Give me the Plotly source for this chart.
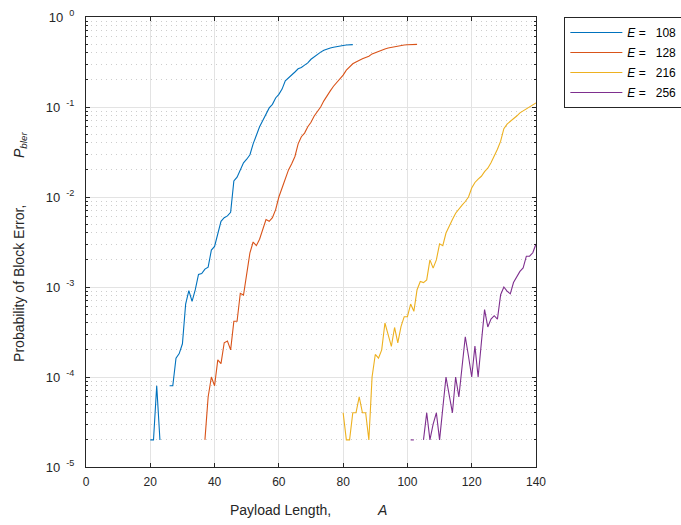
import plotly.graph_objects as go

# ---------------- data ----------------
x_e108 = list(range(20, 84))
p_e108 = [2e-5, 2e-5, 8e-5, 2e-5, None, None, 8e-5, 8e-5, 1.62e-4, 1.82e-4,
          2.34e-4, 6.46e-4, 9.12e-4, 6.92e-4, 9.33e-4, 1.38e-3, 1.41e-3, 1.58e-3, 1.66e-3, 2.57e-3,
          2.82e-3, 3.98e-3, 5.37e-3, 5.89e-3, 6.17e-3, 6.76e-3, 1.51e-2, 1.66e-2, 2.04e-2, 2.40e-2,
          2.63e-2, 2.95e-2, 3.89e-2, 4.90e-2, 6.03e-2, 7.08e-2, 8.51e-2, 9.77e-2, 0.107, 0.126,
          0.138, 0.158, 0.195, 0.209, 0.229, 0.245, 0.266, 0.275, 0.292, 0.309,
          0.339, 0.363, 0.389, 0.407, 0.427, 0.442, 0.452, 0.461, 0.470, 0.478,
          0.483, 0.488, 0.491, 0.493]

x_e128 = list(range(37, 104))
p_e128 = [2e-5, 6.0e-5, 1.0e-4, 8.0e-5, 1.55e-4, 1.41e-4, 2.40e-4, 2.51e-4, 2.0e-4,
          4.17e-4, 4.17e-4, 8.51e-4, 8.13e-4, 1.41e-3, 2.40e-3, 3.16e-3, 2.88e-3, 3.39e-3, 4.37e-3,
          5.62e-3, 5.37e-3, 5.89e-3, 7.24e-3, 1.0e-2, 1.26e-2, 1.58e-2, 2.0e-2, 2.34e-2, 2.82e-2,
          3.89e-2, 4.68e-2, 5.13e-2, 6.03e-2, 6.76e-2, 7.94e-2, 8.91e-2, 0.100, 0.117, 0.135,
          0.151, 0.170, 0.186, 0.209, 0.226, 0.257, 0.282, 0.302, 0.316, 0.331,
          0.343, 0.355, 0.367, 0.389, 0.403, 0.417, 0.432, 0.442, 0.452, 0.460,
          0.468, 0.476, 0.482, 0.488, 0.492, 0.494, 0.495, 0.497]

x_e216 = list(range(80, 141))
p_e216 = [4e-5, 2e-5, 2e-5, 4e-5, 4e-5, 6e-5, 4e-5, 4e-5, 2e-5, 1.0e-4,
          1.78e-4, 1.62e-4, 2.0e-4, 3.98e-4, 2.95e-4, 2.19e-4, 3.55e-4, 2.40e-4, 3.63e-4, 4.68e-4,
          4.68e-4, 6.46e-4, 5.37e-4, 9.33e-4, 1.15e-3, 1.12e-3, 1.20e-3, 2.0e-3, 1.62e-3, 2.0e-3,
          3.02e-3, 2.88e-3, 3.98e-3, 4.79e-3, 5.62e-3, 6.61e-3, 7.41e-3, 8.13e-3, 8.91e-3, 1.0e-2,
          1.26e-2, 1.45e-2, 1.58e-2, 1.70e-2, 1.91e-2, 2.09e-2, 2.40e-2, 2.82e-2, 3.39e-2, 4.17e-2,
          5.75e-2, 6.46e-2, 6.92e-2, 7.24e-2, 7.94e-2, 8.61e-2, 9.02e-2, 9.55e-2, 0.100, 0.106,
          0.111]

x_e256 = list(range(101, 141))
p_e256 = [2e-5, 2e-5, None, None, 2e-5, 4e-5, 2e-5, 3e-5, 4e-5,
          2e-5, 4.5e-5, 1e-4, 6.3e-5, 4e-5, 1e-4, 6e-5, 1.3e-4, 2.8e-4, 1.7e-4,
          1e-4, 2.2e-4, 1e-4, 2.4e-4, 5.6e-4, 3.6e-4, 4.4e-4, 4.8e-4, 4.4e-4, 8.2e-4,
          1.0e-3, 9.0e-4, 8.4e-4, 1.12e-3, 1.31e-3, 1.49e-3, 1.63e-3, 2.2e-3, 2.2e-3, 2.4e-3,
          3.0e-3]

series_names = ["108", "128", "216", "256"]
series_colors = ["#0072BD", "#D95319", "#EDB120", "#7E2F8E"]

x_ticks = [0, 20, 40, 60, 80, 100, 120, 140]
y_tick_vals = [1e-5, 1e-4, 1e-3, 1e-2, 1e-1, 1]
y_tick_exps = ["-5", "-4", "-3", "-2", "-1", "0"]

# ---------------- figure ----------------
FONT = "Liberation Sans, Arial, Helvetica, sans-serif"
AX = "#262626"
NB = "\u00a0"

fig = go.Figure()
for i, (xs, ps, name, col) in enumerate(zip([x_e108, x_e128, x_e216, x_e256],
                                            [p_e108, p_e128, p_e216, p_e256],
                                            series_names, series_colors)):
    fig.add_trace(go.Scatter(
        x=xs, y=ps, mode="lines", connectgaps=False,
        line=dict(color=col, width=1.1),
        name=f"<i>E</i> ={NB*3}{name}", legendgroup=f"g{i}",
    ))

fig.update_layout(
    width=681, height=525,
    margin=dict(l=86, r=145, t=17, b=58, autoexpand=False),
    paper_bgcolor="white", plot_bgcolor="white",
    font=dict(family=FONT, size=12, color=AX),
    showlegend=True,
    legend=dict(
        x=1.063, y=1.0, xanchor="left", yanchor="top",
        bordercolor=AX, borderwidth=1, bgcolor="white",
        font=dict(family=FONT, size=12, color="black"),
        itemwidth=52, tracegroupgap=1,
    ),
    xaxis=dict(
        range=[0, 140], tickvals=x_ticks, ticktext=[str(v) for v in x_ticks],
        showline=True, linecolor=AX, linewidth=1, mirror="allticks",
        ticks="inside", ticklen=4, tickcolor=AX, automargin=False,
        ticklabelstandoff=4,
        showgrid=True, gridcolor="#e3e3e3", gridwidth=1,
        zeroline=False, tickfont=dict(size=12, color=AX),
    ),
    yaxis=dict(
        type="log", range=[-5, 0], tickvals=y_tick_vals,
        ticktext=[f"10{NB}<sup>{NB}{e}</sup>" for e in y_tick_exps],
        showline=True, linecolor=AX, linewidth=1, mirror="allticks",
        ticks="inside", ticklen=4, tickcolor=AX, automargin=False,
        ticklabelstandoff=8,
        showgrid=True, gridcolor="#e3e3e3", gridwidth=1,
        zeroline=False, tickfont=dict(size=13, color=AX),
        minor=dict(dtick="D1", ticks="inside", ticklen=2, tickcolor=AX,
                   showgrid=True, gridcolor="#cdcdcd", griddash="1px,4px", gridwidth=1),
    ),
    annotations=[
        dict(text=f"Payload Length,{NB*12}<i>A</i>", xref="paper", yref="paper",
             x=0.495, y=-0.095, xanchor="center", yanchor="middle", showarrow=False,
             font=dict(family=FONT, size=14, color=AX)),
        dict(text=f"Probability of Block Error,{NB*12}<i>P</i><sub><i>bler</i></sub>",
             xref="paper", yref="paper", x=-0.148, y=0.49, xanchor="center", yanchor="middle",
             textangle=-90, showarrow=False, font=dict(family=FONT, size=14, color=AX)),
    ],
)

fig.write_html("out.html", config={"displayModeBar": False},
               post_script="document.body.style.margin='0px';")
